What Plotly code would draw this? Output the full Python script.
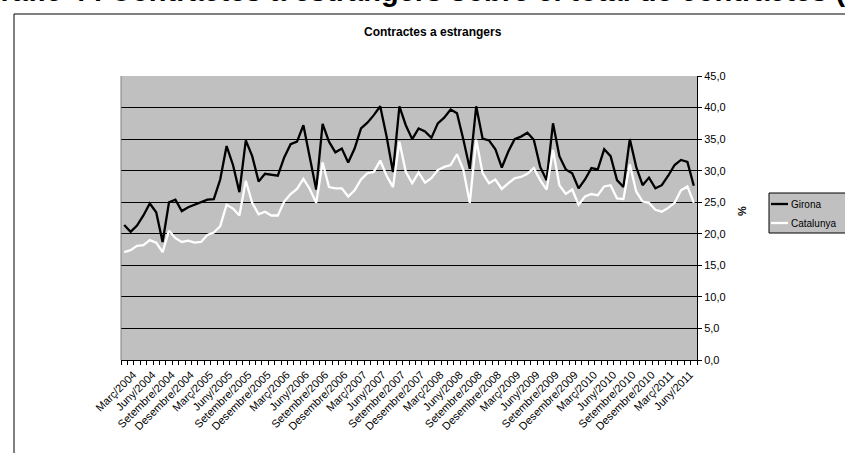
import plotly.graph_objects as go

# Monthly share of contracts to foreigners (%), Mar 2004 - Aug 2011
MONTH_NAMES = ["Gener", "Febrer", "Març", "Abril", "Maig", "Juny", "Juliol",
               "Agost", "Setembre", "Octubre", "Novembre", "Desembre"]
months = [f"{MONTH_NAMES[(2 + k) % 12]}/{2004 + (2 + k) // 12}" for k in range(90)]

girona = [
    21.4, 20.3, 21.3, 22.9, 24.8, 23.4, 18.7, 25.0, 25.4, 23.6,
    24.2, 24.6, 24.9, 25.4, 25.5, 28.6, 33.9, 30.9, 26.6, 34.8,
    32.3, 28.3, 29.5, 29.4, 29.2, 32.1, 34.2, 34.6, 37.2, 32.1,
    27.0, 37.4, 34.6, 32.9, 33.5, 31.3, 33.5, 36.7, 37.6, 38.8,
    40.2, 35.4, 29.8, 40.2, 37.2, 35.0, 36.7, 36.2, 35.2, 37.5,
    38.4, 39.7, 39.1, 34.9, 30.3, 40.2, 35.1, 34.8, 33.4, 30.5,
    33.0, 35.0, 35.4, 36.0, 34.9, 30.6, 28.5, 37.5, 32.3, 30.2,
    29.6, 27.2, 28.6, 30.4, 30.2, 33.4, 32.3, 28.5, 27.4, 35.0,
    30.6, 27.7, 28.9, 27.2, 27.7, 29.2, 30.9, 31.7, 31.4, 27.6,
]
catalunya = [
    17.1, 17.4, 18.1, 18.2, 19.0, 18.6, 17.1, 20.5, 19.3, 18.7,
    18.9, 18.6, 18.7, 19.8, 20.2, 21.2, 24.6, 24.0, 22.9, 28.4,
    24.9, 23.1, 23.5, 22.9, 22.9, 25.1, 26.3, 27.1, 28.7, 27.1,
    24.9, 31.3, 27.4, 27.2, 27.2, 25.9, 26.9, 28.6, 29.6, 29.8,
    31.6, 29.2, 27.4, 34.6, 29.8, 28.0, 29.7, 28.1, 28.8, 30.1,
    30.6, 30.9, 32.6, 30.1, 24.9, 34.9, 29.6, 28.0, 28.6, 27.1,
    28.0, 28.8, 29.0, 29.5, 30.4, 28.5, 27.0, 33.3, 27.7, 26.3,
    27.0, 24.6, 25.9, 26.3, 26.1, 27.5, 27.7, 25.6, 25.5, 31.0,
    26.7, 25.1, 24.9, 23.8, 23.5, 24.1, 24.9, 26.9, 27.5, 24.9,
]
tick_text = [m if k % 3 == 0 else "" for k, m in enumerate(months)]

FONT = "Arial, Liberation Sans, sans-serif"
W, H = 845, 453
L, R, T, B = 121, 697, 76, 360


def px_x(x):
    return (x - L) / (R - L)


def px_y(y):
    return (B - y) / (B - T)


fig = go.Figure()
fig.add_trace(go.Scatter(x=months, y=girona, name="Girona", mode="lines",
                         line={"color": "black", "width": 2.3}))
fig.add_trace(go.Scatter(x=months, y=catalunya, name="Catalunya", mode="lines",
                         line={"color": "white", "width": 2.3}))

shapes = [
    # outer chart frame
    dict(type="rect", xref="paper", yref="paper", x0=px_x(14), x1=px_x(860),
         y0=px_y(470), y1=px_y(14), line={"color": "black", "width": 1}),
    # left border of plot area
    dict(type="line", xref="paper", yref="paper", x0=0, x1=0, y0=0, y1=1,
         line={"color": "#808080", "width": 1}),
    # legend box
    dict(type="rect", xref="paper", yref="paper", x0=px_x(769), x1=px_x(860),
         y0=px_y(233), y1=px_y(193), fillcolor="#C0C0C0",
         line={"color": "black", "width": 1}),
    dict(type="line", xref="paper", yref="paper", x0=px_x(771), x1=px_x(788),
         y0=px_y(204), y1=px_y(204), line={"color": "black", "width": 2.3}),
    dict(type="line", xref="paper", yref="paper", x0=px_x(771), x1=px_x(788),
         y0=px_y(223), y1=px_y(223), line={"color": "white", "width": 2.3}),
]

annotations = [
    dict(text="<b>Gràfic 4 . Contractes a estrangers sobre el total de contractes (%)</b>",
         xref="paper", yref="paper", x=px_x(-24), y=px_y(9), xanchor="left",
         yanchor="bottom", showarrow=False, font={"family": FONT, "size": 29, "color": "black"}),
    dict(text="<b>Contractes a estrangers</b>", xref="paper", yref="paper",
         x=px_x(433), y=px_y(32), xanchor="center", yanchor="middle", showarrow=False,
         font={"family": FONT, "size": 12, "color": "black"}),
    dict(text="<b>%</b>", xref="paper", yref="paper", x=px_x(742), y=px_y(211),
         xanchor="center", yanchor="middle", textangle=-90, showarrow=False,
         font={"family": FONT, "size": 11, "color": "black"}),
    dict(text="Girona", xref="paper", yref="paper", x=px_x(789), y=px_y(204),
         xanchor="left", yanchor="middle", showarrow=False,
         font={"family": FONT, "size": 10, "color": "black"}),
    dict(text="Catalunya", xref="paper", yref="paper", x=px_x(789), y=px_y(223),
         xanchor="left", yanchor="middle", showarrow=False,
         font={"family": FONT, "size": 10, "color": "black"}),
]

fig.update_layout(
    width=W, height=H,
    margin={"l": L, "r": W - R, "t": T, "b": H - B, "pad": 0},
    paper_bgcolor="white", plot_bgcolor="#C0C0C0",
    showlegend=False, separators=",.",
    font={"family": FONT, "size": 10, "color": "black"},
    shapes=shapes, annotations=annotations,
)
fig.update_xaxes(
    type="category", range=[-0.5, len(months) - 0.5],
    tickmode="array", tickvals=months, ticktext=tick_text, tickson="boundaries",
    ticks="outside", ticklen=4, tickcolor="black", tickangle=-45,
    ticklabelshift=9, ticklabelstandoff=3,
    tickfont={"family": FONT, "size": 11, "color": "black"},
    showline=True, linecolor="black", linewidth=1, showgrid=False, zeroline=False,
)
fig.update_yaxes(
    side="right", range=[0, 45], dtick=5, tick0=0, tickformat=".1f",
    ticks="outside", ticklen=4, tickcolor="black",
    tickfont={"family": FONT, "size": 11, "color": "black"},
    showline=True, linecolor="black", linewidth=1,
    showgrid=True, gridcolor="black", gridwidth=1, zeroline=False,
)

fig.write_html("out.html", config={"displayModeBar": False},
               post_script="document.body.style.margin='0';")
